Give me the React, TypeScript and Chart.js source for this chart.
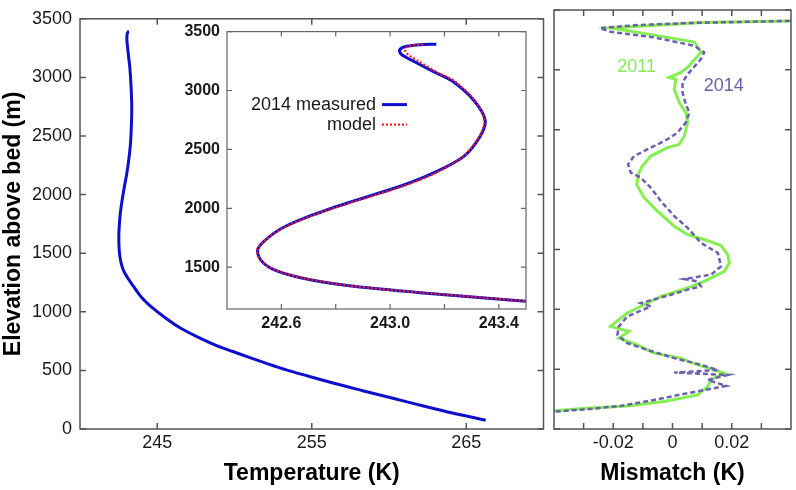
import React, { useEffect, useRef } from "react";
import { Chart, registerables } from "chart.js";

Chart.register(...registerables);

const FONT = "'Liberation Sans', Arial, Helvetica, sans-serif";
const BLUE = "#0e0ecc";
const RED = "#ff1a1a";
const GREEN = "#86ee52";
const PURPLE = "#6b60b0";
const INK = "#1a1a1a";
const FRAME = "#555555";

// Measured 2014 temperature profile (K) vs elevation above bed (m)
const profileTemp = [243.17, 243.12, 243.06, 243.035, 243.04, 243.06, 243.09, 243.16, 243.23, 243.31, 243.35, 243.33, 243.27, 243.16, 243.04, 242.85, 242.71, 242.6, 242.535, 242.513, 242.523, 242.57, 242.67, 242.85, 243.1, 243.44, 243.85, 244.09, 244.52, 245.6, 246.55, 247.8, 248.8, 249.9, 250.95, 251.98, 253.35, 254.75, 256.5, 258.3, 260.25, 262.1, 264.1, 266.26];
const profileElev = [3392, 3390, 3375, 3345, 3310, 3280, 3244, 3160, 3078, 2911, 2744, 2606, 2439, 2300, 2189, 2050, 1939, 1828, 1717, 1647, 1564, 1481, 1411, 1342, 1286, 1222, 1145, 1108, 1052, 940, 857, 773, 714, 661, 611, 564, 505, 452, 388, 327, 262, 201, 137, 75];

// Model profile (inset)
const modelTemp = [243.122, 243.09, 243.062, 243.055, 243.062, 243.078, 243.104, 243.168, 243.238, 243.313, 243.347, 243.327, 243.268, 243.168, 243.049, 242.858, 242.715, 242.603, 242.535, 242.511, 242.522, 242.572, 242.672, 242.855, 243.104, 243.444, 243.853, 244.093, 244.523];
const modelElev = [3392, 3385, 3370, 3342, 3315, 3285, 3250, 3160, 3078, 2911, 2744, 2606, 2439, 2300, 2189, 2050, 1939, 1828, 1717, 1647, 1564, 1481, 1411, 1342, 1286, 1222, 1145, 1108, 1052];

// Mismatch 2011 (K) vs elevation (m)
const mis2011 = [0.045, 0.01, -0.0209, -0.0062, 0.0074, 0.0096, 0.0051, 0.0028, -0.0011, 0.0011, 0.0006, 0.0023, 0.0045, 0.0051, 0.004, 0.0023, -0.0017, -0.0073, -0.0102, -0.0113, -0.0121, -0.0096, -0.0051, 0.0006, 0.0051, 0.0107, 0.0164, 0.0186, 0.0192, 0.0175, 0.0107, 0.0051, -0.0039, -0.0096, -0.0153, -0.0209, -0.0147, -0.0181, -0.0119, -0.0062, 0.0028, 0.0085, 0.0141, 0.0175, 0.013, 0.0119, 0.0085, -0.0028, -0.0153, -0.0288, -0.0401, -0.05];
const elev2011 = [3410, 3395, 3350, 3290, 3232, 3146, 3020, 2978, 2937, 2922, 2838, 2727, 2643, 2560, 2448, 2378, 2350, 2280, 2196, 2141, 2043, 1932, 1820, 1694, 1624, 1583, 1532, 1457, 1387, 1317, 1233, 1178, 1108, 1038, 969, 857, 815, 759, 703, 634, 592, 536, 494, 466, 410, 354, 285, 229, 193, 173, 153, 143];

// Mismatch 2014 (K) vs elevation (m)
const mis2014 = [0.045, 0.0051, -0.0119, -0.0245, -0.0209, -0.0062, 0.0074, 0.0107, 0.0096, 0.0051, 0.0034, 0.0034, 0.0045, 0.0057, 0.0045, 0.0017, -0.0017, -0.0073, -0.013, -0.015, -0.0141, -0.0107, -0.0073, -0.0039, 0.0006, 0.0051, 0.0096, 0.0153, 0.0164, 0.013, 0.004, 0.0085, 0.0096, 0.0051, -0.0005, -0.0107, -0.0073, -0.0153, -0.0181, -0.0186, -0.0153, -0.0085, 0.0006, 0.0096, 0.0153, 0.0006, 0.0186, 0.0119, 0.0181, 0.0051, -0.0062, -0.0175, -0.0288, -0.0401, -0.05];
const elev2014 = [3412, 3391, 3374, 3349, 3318, 3271, 3201, 3146, 3090, 2964, 2894, 2811, 2713, 2643, 2560, 2476, 2420, 2350, 2280, 2211, 2141, 2099, 2015, 1903, 1778, 1680, 1555, 1471, 1359, 1289, 1253, 1233, 1191, 1164, 1122, 1052, 1024, 940, 857, 787, 718, 661, 592, 536, 494, 471, 452, 410, 360, 299, 243, 193, 165, 145, 135];

// Ticks
const mainXTicks = [245, 255, 265];
const elevTicks = [0, 500, 1000, 1500, 2000, 2500, 3000, 3500];
const insetXTicks = [242.6, 242.8, 243.0, 243.2, 243.4];
const insetXLabels = [242.6, 243.0, 243.4];
const insetYTicks = [1500, 2000, 2500, 3000, 3500];
const misTicks = [-0.03, -0.02, -0.01, 0, 0.01, 0.02, 0.03];
const misLabels = [-0.02, 0, 0.02];

// In-plot series labels (right panel)
const seriesLabelText = ["2011", "2014"];
const seriesLabelMis = [-0.0121, 0.0173];
const seriesLabelElev = [3020, 2866];
const seriesLabelColor = [GREEN, PURPLE];

const pts = (xs: number[], ys: number[]) => xs.map((x, i) => ({ x, y: ys[i] }));

const framePlugin = {
  id: "frame",
  afterDatasetsDraw(chart: any, _a: any, opts: any) {
    const { ctx, chartArea } = chart;
    const { left, right, top, bottom } = chartArea;
    const xs = chart.scales.x;
    const ys = chart.scales.y;
    ctx.save();
    ctx.strokeStyle = opts.color;
    ctx.lineWidth = opts.width;
    ctx.setLineDash([]);
    ctx.beginPath();
    xs.ticks.forEach((t: any) => {
      const p = xs.getPixelForValue(t.value);
      ctx.moveTo(p, bottom);
      ctx.lineTo(p, bottom - opts.len);
      ctx.moveTo(p, top);
      ctx.lineTo(p, top + opts.len);
    });
    ys.ticks.forEach((t: any) => {
      const p = ys.getPixelForValue(t.value);
      ctx.moveTo(left, p);
      ctx.lineTo(left + opts.len, p);
      ctx.moveTo(right, p);
      ctx.lineTo(right - opts.len, p);
    });
    ctx.stroke();
    ctx.strokeRect(left, top, right - left, bottom - top);
    ctx.restore();
  },
};

const whiteArea = {
  id: "whiteArea",
  beforeDraw(chart: any) {
    const { ctx, chartArea } = chart;
    ctx.save();
    ctx.fillStyle = "#ffffff";
    ctx.fillRect(chartArea.left, chartArea.top, chartArea.right - chartArea.left, chartArea.bottom - chartArea.top);
    ctx.restore();
  },
};

const insetLegend = {
  id: "insetLegend",
  afterDatasetsDraw(chart: any, _a: any, opts: any) {
    const { ctx, chartArea } = chart;
    ctx.save();
    ctx.font = `18px ${FONT}`;
    ctx.textAlign = "right";
    ctx.textBaseline = "middle";
    ctx.fillStyle = INK;
    chart.data.datasets.forEach((ds: any, i: number) => {
      const x = chartArea.left + opts.offsetX;
      const y = chartArea.top + opts.offsetY + i * opts.rowGap;
      ctx.fillText(ds.label, x, y);
      ctx.beginPath();
      ctx.setLineDash(ds.borderDash || []);
      ctx.strokeStyle = ds.borderColor;
      ctx.lineWidth = ds.borderWidth;
      ctx.moveTo(x + 6, y);
      ctx.lineTo(x + 31, y);
      ctx.stroke();
    });
    ctx.restore();
  },
};

const seriesText = {
  id: "seriesText",
  afterDatasetsDraw(chart: any) {
    const { ctx } = chart;
    const xs = chart.scales.x;
    const ys = chart.scales.y;
    ctx.save();
    ctx.font = `18px ${FONT}`;
    ctx.textAlign = "center";
    ctx.textBaseline = "middle";
    seriesLabelText.forEach((t, i) => {
      ctx.fillStyle = seriesLabelColor[i];
      ctx.fillText(t, xs.getPixelForValue(seriesLabelMis[i]), ys.getPixelForValue(seriesLabelElev[i]));
    });
    ctx.restore();
  },
};

const tickFont = { family: FONT, size: 18 };
const titleFont = { family: FONT, size: 23, weight: "bold" as const };
const noGrid = { display: false, drawTicks: false };

function mainConfig(): any {
  return {
    type: "scatter",
    data: {
      datasets: [
        {
          data: pts(profileTemp, profileElev),
          showLine: true,
          borderColor: BLUE,
          borderWidth: 3,
          pointRadius: 0,
          tension: 0.35,
          clip: 0,
        },
      ],
    },
    plugins: [framePlugin],
    options: {
      responsive: false,
      animation: false,
      devicePixelRatio: 1,
      layout: { padding: { left: 0, right: 4.5, top: 11, bottom: 0 } },
      plugins: {
        legend: { display: false },
        tooltip: { enabled: false },
        frame: { color: FRAME, width: 1.5, len: 6 },
      },
      scales: {
        x: {
          type: "linear",
          min: 240,
          max: 270,
          afterBuildTicks: (s: any) => {
            s.ticks = mainXTicks.map((value) => ({ value }));
          },
          grid: noGrid,
          border: { display: false },
          ticks: { padding: 3, font: tickFont, color: INK, maxRotation: 0, autoSkip: false, callback: (v: number) => String(v) },
          title: { display: true, text: "Temperature (K)", font: titleFont, color: "#000", padding: { top: 0, bottom: 3 } },
          afterFit: (s: any) => {
            s.height = 61;
          },
        },
        y: {
          type: "linear",
          min: 0,
          max: 3500,
          afterBuildTicks: (s: any) => {
            s.ticks = elevTicks.map((value) => ({ value }));
          },
          grid: noGrid,
          border: { display: false },
          ticks: { padding: 8, font: tickFont, color: INK, autoSkip: false, callback: (v: number) => String(v) },
          title: { display: true, text: "Elevation above bed (m)", font: titleFont, color: "#000", padding: { top: 0, bottom: 0 } },
          afterFit: (s: any) => {
            s.width = 80;
          },
        },
      },
    },
  };
}

function insetConfig(): any {
  const boldTick = { family: FONT, size: 16, weight: "bold" as const };
  return {
    type: "scatter",
    data: {
      datasets: [
        {
          label: "2014 measured",
          data: pts(profileTemp, profileElev),
          showLine: true,
          borderColor: BLUE,
          borderWidth: 3,
          pointRadius: 0,
          tension: 0.3,
          clip: 0,
          order: 2,
        },
        {
          label: "model",
          data: pts(modelTemp, modelElev),
          showLine: true,
          borderColor: RED,
          borderWidth: 2.2,
          borderDash: [2, 2],
          pointRadius: 0,
          tension: 0.3,
          clip: 0,
          order: 1,
        },
      ],
    },
    plugins: [whiteArea, framePlugin, insetLegend],
    options: {
      responsive: false,
      animation: false,
      devicePixelRatio: 1,
      layout: { padding: { left: 0, right: 4, top: 12, bottom: 0 } },
      plugins: {
        legend: { display: false },
        tooltip: { enabled: false },
        frame: { color: "#666666", width: 1.2, len: 5 },
        insetLegend: { offsetX: 149, offsetY: 73, rowGap: 20 },
      },
      scales: {
        x: {
          type: "linear",
          min: 242.4,
          max: 243.5,
          afterBuildTicks: (s: any) => {
            s.ticks = insetXTicks.map((value) => ({ value }));
          },
          grid: noGrid,
          border: { display: false },
          ticks: {
            padding: 5,
            font: boldTick,
            color: INK,
            maxRotation: 0,
            autoSkip: false,
            callback: (v: number) => (insetXLabels.some((l) => Math.abs(l - v) < 1e-6) ? v.toFixed(1) : ""),
          },
          afterFit: (s: any) => {
            s.height = 36;
          },
        },
        y: {
          type: "linear",
          min: 1145,
          max: 3500,
          afterBuildTicks: (s: any) => {
            s.ticks = insetYTicks.map((value) => ({ value }));
          },
          grid: noGrid,
          border: { display: false },
          ticks: { padding: 7, font: boldTick, color: INK, autoSkip: false, callback: (v: number) => String(v) },
          afterFit: (s: any) => {
            s.width = 57;
          },
        },
      },
    },
  };
}

function misConfig(): any {
  return {
    type: "scatter",
    data: {
      datasets: [
        {
          label: "2011",
          data: pts(mis2011, elev2011),
          showLine: true,
          borderColor: GREEN,
          borderWidth: 3,
          pointRadius: 0,
          tension: 0,
          clip: 0,
          order: 2,
        },
        {
          label: "2014",
          data: pts(mis2014, elev2014),
          showLine: true,
          borderColor: PURPLE,
          borderWidth: 2.5,
          borderDash: [5, 3],
          pointRadius: 0,
          tension: 0,
          clip: 0,
          order: 1,
        },
      ],
    },
    plugins: [framePlugin, seriesText],
    options: {
      responsive: false,
      animation: false,
      devicePixelRatio: 1,
      layout: { padding: { left: 0, right: 5, top: 10, bottom: 0 } },
      plugins: {
        legend: { display: false },
        tooltip: { enabled: false },
        frame: { color: FRAME, width: 1.5, len: 6 },
      },
      scales: {
        x: {
          type: "linear",
          min: -0.04,
          max: 0.04,
          afterBuildTicks: (s: any) => {
            s.ticks = misTicks.map((value) => ({ value }));
          },
          grid: noGrid,
          border: { display: false },
          ticks: {
            padding: 3,
            font: tickFont,
            color: INK,
            maxRotation: 0,
            autoSkip: false,
            callback: (v: number) => (misLabels.some((l) => Math.abs(l - v) < 1e-9) ? String(v) : ""),
          },
          title: { display: true, text: "Mismatch (K)", font: titleFont, color: "#000", padding: { top: 0, bottom: 3 } },
          afterFit: (s: any) => {
            s.height = 61;
          },
        },
        y: {
          type: "linear",
          min: 0,
          max: 3500,
          afterBuildTicks: (s: any) => {
            s.ticks = elevTicks.map((value) => ({ value }));
          },
          grid: noGrid,
          border: { display: false },
          ticks: { display: false },
          afterFit: (s: any) => {
            s.width = 6;
          },
        },
      },
    },
  };
}

export default function App() {
  const mainRef = useRef<HTMLCanvasElement>(null);
  const insetRef = useRef<HTMLCanvasElement>(null);
  const misRef = useRef<HTMLCanvasElement>(null);

  useEffect(() => {
    const charts = [
      new Chart(mainRef.current as HTMLCanvasElement, mainConfig()),
      new Chart(misRef.current as HTMLCanvasElement, misConfig()),
      new Chart(insetRef.current as HTMLCanvasElement, insetConfig()),
    ];
    return () => charts.forEach((c) => c.destroy());
  }, []);

  return (
    <div style={{ position: "fixed", left: 0, top: 0, width: 796, height: 490, background: "#ffffff", overflow: "hidden" }}>
      <canvas ref={mainRef} width={548} height={490} style={{ position: "absolute", left: 0, top: 0, width: 548, height: 490 }} />
      <canvas ref={misRef} width={248} height={490} style={{ position: "absolute", left: 548, top: 0, width: 248, height: 490 }} />
      <canvas ref={insetRef} width={360} height={330} style={{ position: "absolute", left: 170, top: 15, width: 360, height: 330 }} />
    </div>
  );
}
